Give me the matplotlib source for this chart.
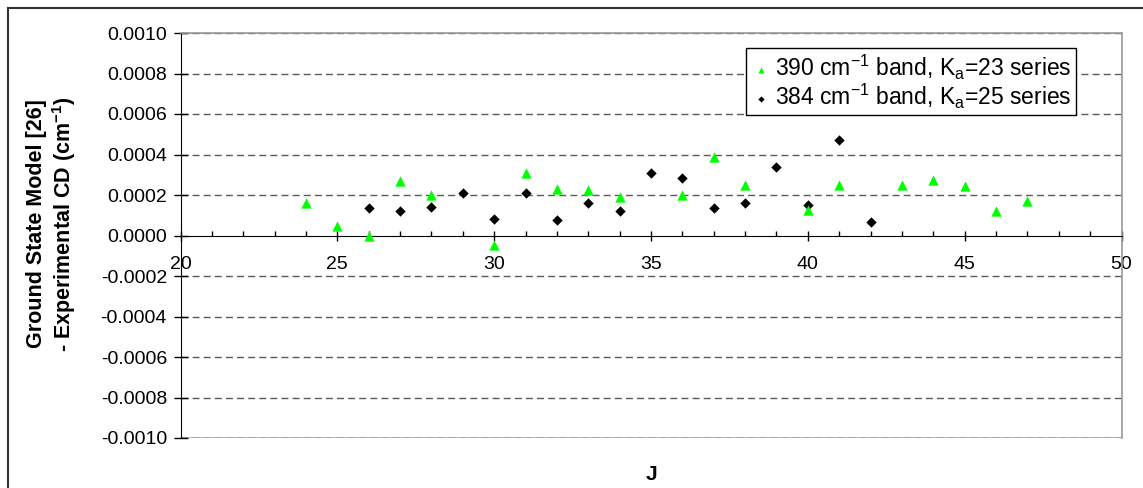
import matplotlib
matplotlib.use("Agg")
import matplotlib.pyplot as plt
from matplotlib.ticker import MultipleLocator, FuncFormatter
from matplotlib.patches import Rectangle

plt.rcParams['font.family'] = ['Liberation Sans', 'DejaVu Sans']
plt.rcParams['mathtext.fontset'] = 'custom'
plt.rcParams['mathtext.rm'] = 'Liberation Sans'
plt.rcParams['mathtext.it'] = 'Liberation Sans:italic'
plt.rcParams['mathtext.bf'] = 'Liberation Sans:bold'
plt.rcParams['mathtext.default'] = 'regular'
plt.rcParams['lines.scale_dashes'] = False

# 390 cm-1 band, Ka=23 series
j_390 = [24, 25, 26, 27, 28, 30, 31, 32, 33, 34, 36, 37, 38, 40, 41, 43, 44, 45, 46, 47]
diff_390 = [0.00016, 0.000045, 0.0, 0.00027, 0.00020, -0.000048, 0.00031, 0.00023,
            0.000225, 0.00019, 0.00020, 0.00039, 0.00025, 0.000125, 0.00025, 0.00025,
            0.000275, 0.000245, 0.00012, 0.000172]

# 384 cm-1 band, Ka=25 series
j_384 = [26, 27, 28, 29, 30, 31, 32, 33, 34, 35, 36, 37, 38, 39, 40, 41, 42]
diff_384 = [0.000136, 0.00012, 0.000142, 0.000211, 0.00008, 0.00021, 0.000075, 0.00016,
            0.00012, 0.00031, 0.000285, 0.000135, 0.00016, 0.00034, 0.00015, 0.00047,
            0.000067]

label_390 = r'390 cm$^{-1}$ band, K$_{a}$=23 series'
label_384 = r'384 cm$^{-1}$ band, K$_{a}$=25 series'

W, H = 1143, 488
fig = plt.figure(figsize=(W / 100, H / 100), dpi=100)
left, right, top, bottom = 180.5, 1121.5, 33.0, 438.0
ax = fig.add_axes([left / W, 1 - bottom / H, (right - left) / W, (bottom - top) / H])

ax.set_xlim(20, 50)
ax.set_ylim(-0.0010, 0.0010)

# dashed horizontal gridlines
for yv in [-0.0010, -0.0008, -0.0006, -0.0004, -0.0002, 0.0002, 0.0004, 0.0006, 0.0008, 0.0010]:
    ax.axhline(yv, color='#5a5a5a', lw=1.0, dashes=(5, 3), zorder=1)

ax.scatter(j_384, diff_384, marker='D', s=28, color='black', lw=0, zorder=3, label=label_384)
ax.scatter(j_390, diff_390, marker='^', s=55, color='#00ff00', lw=0, zorder=4, label=label_390)

# axes frame: black left spine, x axis through zero, grey plot border
ax.spines['bottom'].set_position(('data', 0))
ax.spines['bottom'].set_color('black')
ax.spines['left'].set_color('black')
for s in ['top', 'right']:
    ax.spines[s].set_color('#999999')
    ax.spines[s].set_linewidth(1.2)
ax.axhline(-0.0010, color='#aaaaaa', lw=1.2, zorder=0.5)
ax.axhline(0.0010, color='#aaaaaa', lw=1.2, zorder=0.5)

ax.xaxis.set_major_locator(MultipleLocator(5))
ax.xaxis.set_minor_locator(MultipleLocator(1))
ax.yaxis.set_major_locator(MultipleLocator(0.0002))
ax.yaxis.set_major_formatter(FuncFormatter(lambda v, p: f'{round(v, 4) + 0.0:.4f}'))
ax.tick_params(axis='x', which='major', direction='inout', length=7, width=1, labelsize=14, pad=11)
ax.tick_params(axis='x', which='minor', direction='in', length=3.6, width=1)
ax.tick_params(axis='y', which='major', direction='inout', length=9.5, width=1, labelsize=14, pad=5)

handles, labels = ax.get_legend_handles_labels()
leg = ax.legend(handles[::-1], labels[::-1], loc='upper right',
                bbox_to_anchor=((1076 - left) / (right - left), (bottom - 48) / (bottom - top)),
                borderaxespad=0, fontsize=16.5, frameon=True, fancybox=False,
                edgecolor='black', framealpha=1, handletextpad=0.15, handlelength=0.9,
                labelspacing=0.0, borderpad=0.2, markerscale=0.6)
leg.get_frame().set_linewidth(1.0)

fig.text(651 / W, 1 - 474 / H, 'J', ha='center', va='center', fontsize=15, fontweight='bold')
fig.text(52 / W, 1 - 224 / H,
         'Ground State Model [26]\n- Experimental CD (cm$^{\\mathbf{-1}}$)',
         rotation=90, ha='center', va='center', multialignment='center',
         fontsize=15.5, fontweight='bold', linespacing=1.15)

# outer chart border
fig.patches.append(Rectangle((8 / W, -0.2), 1.3, 1.2 - 8 / H, transform=fig.transFigure,
                             fill=False, edgecolor='#333333', lw=1.5, figure=fig))

fig.savefig('out.png', dpi=100)
